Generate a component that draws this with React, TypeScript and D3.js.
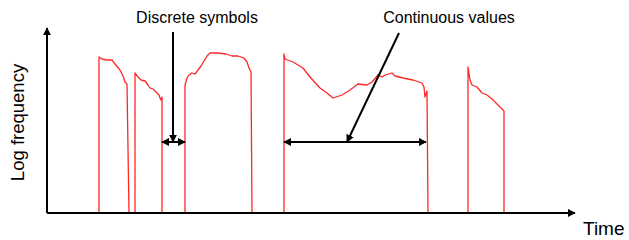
import * as d3 from "d3";
import { useEffect, useRef } from "react";

// time units along the x axis, log frequency along y (0 = silence)
const segment1 = [[52, 0], [52, 156], [55, 154], [60, 153], [65, 153], [68, 149], [73, 143], [76, 137], [78, 131], [80, 129], [82, 0]];
const segment2 = [[88, 0], [88, 140], [91, 136], [94, 133], [98, 132], [101, 128], [103, 125], [106, 124], [109, 121], [112, 118], [113, 115], [114, 113], [115, 116], [115, 0]];
const segment3 = [[138, 0], [138, 128], [140, 135], [142, 138], [145, 140], [148, 139], [151, 143], [154, 147], [157, 152], [160, 157], [163, 160], [171, 160], [179, 159], [185, 157], [191, 157], [197, 155], [200, 151], [202, 145], [204, 141], [205, 0]];
const segment4 = [[237, 0], [237, 159], [238, 154], [246, 151], [256, 145], [263, 136], [273, 125], [280, 120], [286, 115], [295, 118], [303, 123], [311, 129], [320, 128], [325, 131], [331, 138], [335, 136], [338, 138], [345, 140], [348, 137], [356, 135], [366, 133], [375, 130], [377, 126], [378, 116], [380, 122], [381, 0]];
const segment5 = [[421, 0], [421, 146], [423, 133], [425, 128], [430, 126], [435, 120], [440, 118], [445, 114], [451, 108], [457, 102], [457, 0]];
const segments = [segment1, segment2, segment3, segment4, segment5];

const labels = [
    { text: "Discrete symbols", t: 150, v: 190 },
    { text: "Continuous values", t: 402, v: 190 },
];
// pointer: from label down to the span arrow
const pointers = [
    { from: [126, 181], to: [126, 71] },
    { from: [352, 180], to: [300, 71] },
];
// double-headed spans
const spans = [
    { t0: 115, t1: 138, v: 71 },
    { t0: 237, t1: 379, v: 71 },
];

export default function App() {
    const svgRef = useRef(null);
    useEffect(() => {
        const svg = d3.select(svgRef.current);
        svg.selectAll("*").remove();
        svg.attr("width", 629).attr("height", 240);
        svg.style("background", "#FFF");

        const x = d3.scaleLinear().domain([0, 528]).range([47, 575]);
        const y = d3.scaleLinear().domain([0, 185]).range([213, 28]);

        const defs = svg.append("defs");
        defs.append("marker")
            .attr("id", "head")
            .attr("viewBox", "0 0 10 10")
            .attr("refX", 9)
            .attr("refY", 5)
            .attr("markerWidth", 4)
            .attr("markerHeight", 4)
            .attr("orient", "auto-start-reverse")
            .append("path")
            .attr("d", "M0,0 L10,5 L0,10 Z")
            .attr("fill", "#000");

        const line = d3.line()
            .x((d) => x(d[0]))
            .y((d) => y(d[1]));

        // red traces
        svg.selectAll(".seg")
            .data(segments)
            .join("path")
            .attr("d", (d) => line(d))
            .attr("fill", "none")
            .attr("stroke", "#ff2626")
            .attr("stroke-width", 1.3)
            .attr("stroke-linejoin", "round");

        // axes
        svg.append("line")
            .attr("x1", x(0)).attr("y1", y(0))
            .attr("x2", x(0)).attr("y2", y(185))
            .attr("stroke", "#000").attr("stroke-width", 2)
            .attr("marker-end", "url(#head)");
        svg.append("line")
            .attr("x1", x(0)).attr("y1", y(0))
            .attr("x2", x(528)).attr("y2", y(0))
            .attr("stroke", "#000").attr("stroke-width", 2)
            .attr("marker-end", "url(#head)");

        svg.append("text")
            .attr("transform", `translate(24,${(y(0) + y(185)) / 2 + 2}) rotate(-90)`)
            .attr("text-anchor", "middle")
            .style("font-family", "'Liberation Sans', Arial, sans-serif")
            .style("font-size", "18.5px")
            .text("Log frequency");
        svg.append("text")
            .attr("x", 583)
            .attr("y", 235)
            .style("font-family", "'Liberation Sans', Arial, sans-serif")
            .style("font-size", "19px")
            .text("Time");

        // annotations
        svg.selectAll(".lbl")
            .data(labels)
            .join("text")
            .attr("x", (d) => x(d.t))
            .attr("y", (d) => y(d.v))
            .attr("text-anchor", "middle")
            .style("font-family", "'Liberation Sans', Arial, sans-serif")
            .style("font-size", "16px")
            .text((d) => d.text);

        svg.selectAll(".ptr")
            .data(pointers)
            .join("line")
            .attr("x1", (d) => x(d.from[0])).attr("y1", (d) => y(d.from[1]))
            .attr("x2", (d) => x(d.to[0])).attr("y2", (d) => y(d.to[1]))
            .attr("stroke", "#000").attr("stroke-width", 2)
            .attr("marker-end", "url(#head)");

        svg.selectAll(".span")
            .data(spans)
            .join("line")
            .attr("x1", (d) => x(d.t0)).attr("y1", (d) => y(d.v))
            .attr("x2", (d) => x(d.t1)).attr("y2", (d) => y(d.v))
            .attr("stroke", "#000").attr("stroke-width", 2)
            .attr("marker-start", "url(#head)")
            .attr("marker-end", "url(#head)");
    }, []);

    return (
        <div style={{ position: "absolute", left: 0, top: 0 }}>
            <svg ref={svgRef} style={{ display: "block" }} />
        </div>
    );
}
